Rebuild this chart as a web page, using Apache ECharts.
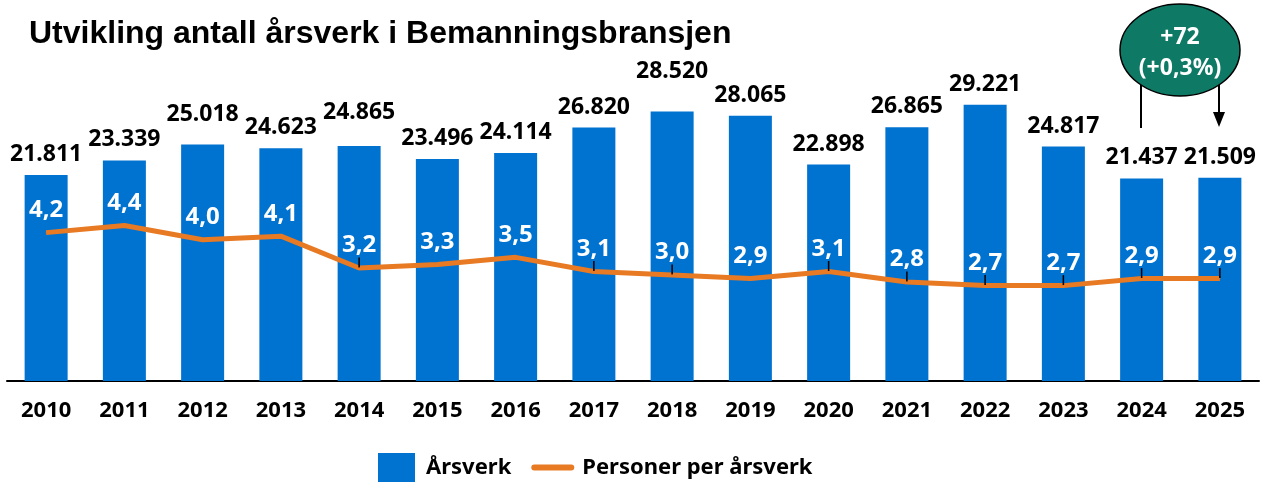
<!DOCTYPE html>
<html>
<head>
<meta charset="utf-8">
<script src="https://cdn.jsdelivr.net/npm/echarts@6/dist/echarts.min.js"></script>
<style>
  html, body { margin: 0; padding: 0; background: #fff; }
  #chart { width: 1278px; height: 483px; }
</style>
</head>
<body>
<div id="chart"></div>
<script>
const years = ["2010", "2011", "2012", "2013", "2014", "2015", "2016", "2017",
  "2018", "2019", "2020", "2021", "2022", "2023", "2024", "2025"];
const arsverk = [21811, 23339, 25018, 24623, 24865, 23496, 24114, 26820,
  28520, 28065, 22898, 26865, 29221, 24817, 21437, 21509];
const personerPerArsverk = [4.2, 4.4, 4.0, 4.1, 3.2, 3.3, 3.5, 3.1,
  3.0, 2.9, 3.1, 2.8, 2.7, 2.7, 2.9, 2.9];

// labels that sit higher above their bar in the original
const barLabelDistance = { 2: 19, 4: 22, 8: 29 };
// points whose label has a small leader tick
const tickIdx = [4, 7, 8, 10, 11, 12, 13, 14, 15];

const FONT = '"Noto Sans", sans-serif';
const fmtThousand = (v) => String(v).replace(/\B(?=(\d{3})+(?!\d))/g, ".");

const chart = echarts.init(document.getElementById("chart"));

chart.setOption({
  animation: false,
  title: {
    text: "Utvikling antall årsverk i Bemanningsbransjen",
    left: 24,
    top: 13,
    textStyle: {
      fontFamily: '"Liberation Sans", Arial, sans-serif',
      fontWeight: "bold",
      fontSize: 32,
      color: "#000",
    },
  },
  legend: {
    top: 448,
    left: 373,
    itemGap: 20,
    itemWidth: 37,
    itemHeight: 29,
    textStyle: {
      fontFamily: FONT, fontWeight: "bold", fontSize: 22, color: "#000",
      padding: [0, 0, 0, 6],
    },
    data: [
      { name: "Årsverk", icon: "rect" },
      {
        name: "Personer per årsverk",
        itemStyle: { opacity: 0 },
        lineStyle: { width: 6, cap: "round" },
      },
    ],
  },
  grid: { left: 7, right: 19, top: 3, bottom: 102 },
  xAxis: {
    type: "category",
    data: years,
    axisTick: { show: false },
    axisLine: { lineStyle: { color: "#000", width: 2 } },
    axisLabel: {
      margin: 19,
      fontFamily: FONT,
      fontWeight: "bold",
      fontSize: 22,
      color: "#000",
    },
  },
  yAxis: [
    { type: "value", min: 0, max: 40000, show: false, splitLine: { show: false } },
    { type: "value", min: 0, max: 10.7, show: false, splitLine: { show: false } },
  ],
  series: [
    {
      name: "Årsverk",
      type: "bar",
      barWidth: 43,
      itemStyle: { color: "#0072CF" },
      data: arsverk.map((v, i) => ({
        value: v,
        label: { distance: barLabelDistance[i] !== undefined ? barLabelDistance[i] : 9 },
      })),
      label: {
        show: true,
        position: "top",
        formatter: (p) => fmtThousand(p.value),
        fontFamily: FONT,
        fontWeight: "bold",
        fontSize: 23,
        color: "#000",
      },
      z: 1,
    },
    {
      name: "Personer per årsverk",
      type: "line",
      yAxisIndex: 1,
      symbol: "circle",
      symbolSize: 1,
      itemStyle: { color: "#E87A24" },
      lineStyle: { color: "#E87A24", width: 5 },
      data: personerPerArsverk.map((v, i) => ({
        value: v,
        labelLine: { show: tickIdx.indexOf(i) >= 0 },
      })),
      label: {
        show: true,
        position: "top",
        distance: 2,
        formatter: (p) => p.value.toFixed(1).replace(".", ","),
        fontFamily: FONT,
        fontWeight: "bold",
        fontSize: 24,
        color: "#fff",
      },
      labelLayout: { dy: -8 },
      labelLine: { lineStyle: { color: "#000", width: 1.5 } },
      z: 3,
    },
  ],
  graphic: [
    {
      type: "line",
      shape: { x1: 1141, y1: 80, x2: 1141, y2: 128 },
      style: { stroke: "#000", lineWidth: 2 },
      z: 10,
    },
    {
      type: "line",
      shape: { x1: 1219, y1: 80, x2: 1219, y2: 114 },
      style: { stroke: "#000", lineWidth: 2 },
      z: 10,
    },
    {
      type: "polygon",
      shape: { points: [[1213, 112], [1225, 112], [1219, 127]] },
      style: { fill: "#000" },
      z: 10,
    },
    {
      type: "ellipse",
      shape: { cx: 1180, cy: 50, rx: 60, ry: 46 },
      style: { fill: "#0E7A66", stroke: "#000", lineWidth: 1.5 },
      z: 11,
    },
    {
      type: "text",
      x: 1180,
      y: 37,
      style: {
        text: "+72",
        fill: "#fff",
        font: 'bold 23px "Noto Sans", sans-serif',
        align: "center",
        verticalAlign: "middle",
      },
      z: 12,
    },
    {
      type: "text",
      x: 1180,
      y: 68,
      style: {
        text: "(+0,3%)",
        fill: "#fff",
        font: 'bold 23px "Noto Sans", sans-serif',
        align: "center",
        verticalAlign: "middle",
      },
      z: 12,
    },
  ],
});
</script>
</body>
</html>
